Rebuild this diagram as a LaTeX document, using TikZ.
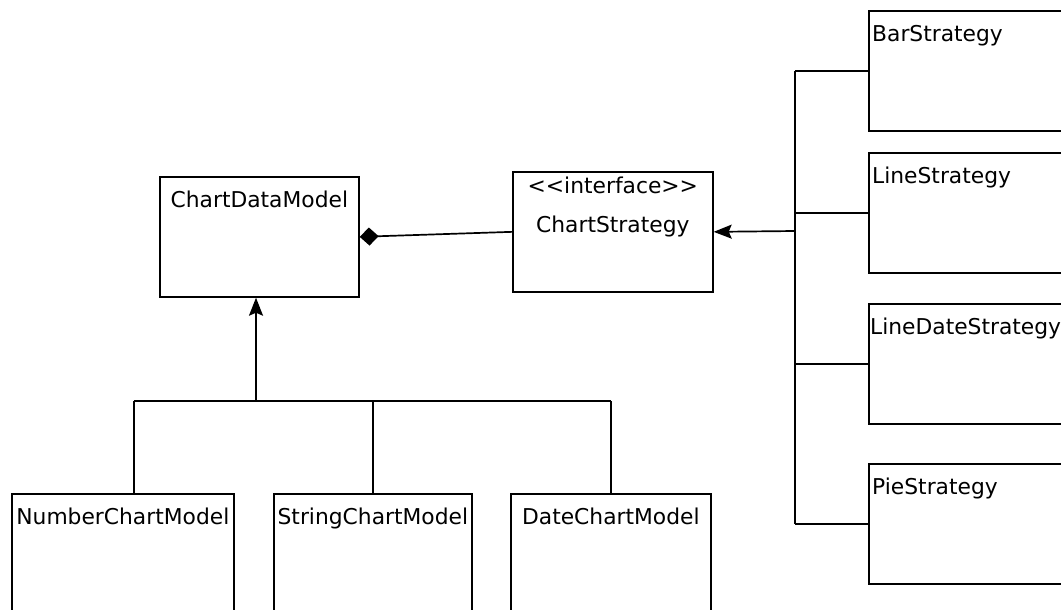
\documentclass[tikz,border=0pt]{standalone}
\usepackage{fontspec}
\setmainfont{DejaVu Sans}
\usetikzlibrary{arrows.meta,positioning}

\tikzset{
  cls/.style={draw, line width=1.7pt, anchor=north west, inner sep=0pt,
    minimum width=200pt, minimum height=120pt},
  title/.style={font=\fontsize{21.8}{24}\selectfont, inner sep=0pt,
    text height=15.9pt, text depth=4.5pt},
  link/.style={line width=1.7pt},
  inherit/.style={link, -{Stealth[length=18pt,width=14pt,inset=3pt]}},
  owns/.style={link, {Diamond[length=19pt,width=18pt]}-},
}

\begin{document}
\begin{tikzpicture}[x=1pt,y=-1pt]
\useasboundingbox (0,0) rectangle (1061,610);

% data model and strategy
\node[cls, minimum width=199pt] (data) at (159,176) {};
\node[title, below=15pt of data.north] {ChartDataModel};
\node[cls] (strat) at (512,171) {};
\node[title, below=6pt of strat.north] {{<}{<}interface{>}{>}};
\node[title, below=45pt of strat.north] {ChartStrategy};

% concrete strategies
\node[cls] (bar) at (868,10) {};
\node[title, below right=15pt and 4pt of bar.north west] {BarStrategy};
\node[cls] (line) at (868,152) {};
\node[title, below right=15pt and 4pt of line.north west] {LineStrategy};
\node[cls] (linedate) at (868,303) {};
\node[title, below right=15pt and 2pt of linedate.north west] {LineDateStrategy};
\node[cls] (pie) at (868,463) {};
\node[title, below right=15pt and 4pt of pie.north west] {PieStrategy};

% concrete models
\node[cls, minimum width=222pt] (num) at (11,493) {};
\node[title, below=15pt of num.north] {NumberChartModel};
\node[cls, minimum width=198pt] (str) at (273,493) {};
\node[title, below=15pt of str.north] {StringChartModel};
\node[cls] (date) at (510,493) {};
\node[title, below=15pt of date.north] {DateChartModel};

\coordinate (bus) at (795,231);
\coordinate (join) at (256,401);

\draw[owns] (data.east) -- (strat.west);

% strategy hierarchy
\draw[link] (bar.west -| bus) -- (pie.west -| bus);
\foreach \s in {bar,line,linedate,pie}
  \draw[link] (\s.west) -- (\s.west -| bus);
\draw[inherit] (bus) -- (strat.east);

% model hierarchy
\draw[link] ([xshift=11pt]num.north |- join) -- (date.north |- join);
\draw[inherit] (join) -- (join |- data.south);
\draw[link] ([xshift=11pt]num.north |- join) -- ([xshift=11pt]num.north);
\draw[link] (str.north |- join) -- (str.north);
\draw[link] (date.north |- join) -- (date.north);
\end{tikzpicture}
\end{document}
